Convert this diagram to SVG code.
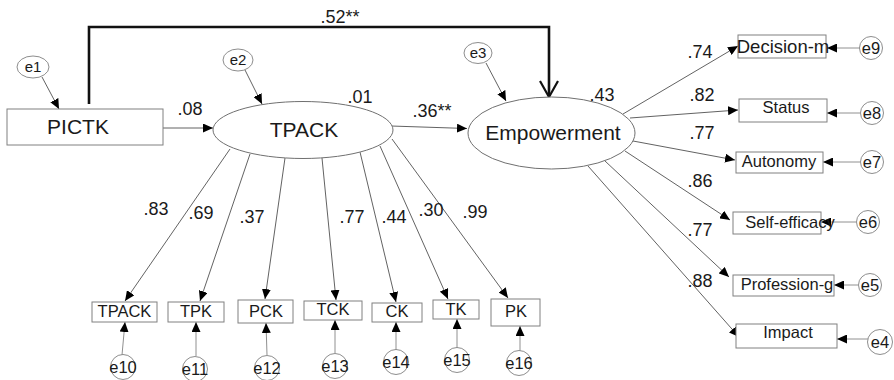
<svg xmlns="http://www.w3.org/2000/svg" width="894" height="380" viewBox="0 0 894 380">
  <style>
    .box { fill: #fff; stroke: #808080; stroke-width: 1; }
    .lat { fill: #fff; stroke: #707070; stroke-width: 1; }
    .err { fill: #fff; stroke: #808080; stroke-width: 0.9; }
    .ln { fill: none; stroke: #505050; stroke-width: 0.9; }
    .lg { fill: none; stroke: #909090; stroke-width: 1; }
    .big { font-family: "Liberation Sans", Arial, sans-serif; font-size: 21px; fill: #1a1a1a; text-anchor: middle; }
    .ind { font-family: "Liberation Sans", Arial, sans-serif; font-size: 16.5px; fill: #1a1a1a; text-anchor: middle; }
    .et { font-family: "Liberation Sans", Arial, sans-serif; font-size: 15px; fill: #1a1a1a; text-anchor: middle; }
    .num { font-family: "Liberation Sans", Arial, sans-serif; font-size: 18px; fill: #1a1a1a; text-anchor: middle; }
  </style>
  <defs>
    <marker id="ah" viewBox="0 0 10 9" markerUnits="userSpaceOnUse" markerWidth="10" markerHeight="9" refX="10" refY="4.5" orient="auto">
      <path d="M0,0 L10,4.5 L0,9 z" fill="#000"/>
    </marker>
  </defs>

  <!-- paths between variables -->
  <g id="connectors">
    <!-- direct effect PICTK -> Empowerment (bold, open head) -->
    <polyline points="89,104 89,27 549,27 549,96" fill="none" stroke="#111" stroke-width="2.6"/>
    <polyline points="540,81 549,97 558,81" fill="none" stroke="#111" stroke-width="2.2"/>

    <!-- structural paths -->
    <line class="ln" x1="160" y1="128" x2="213" y2="128" marker-end="url(#ah)"/>
    <line class="ln" x1="391" y1="126" x2="467" y2="128.5" marker-end="url(#ah)"/>

    <!-- error terms of latent / exogenous variables -->
    <line class="ln" x1="42" y1="77" x2="59" y2="109" marker-end="url(#ah)"/>
    <line class="ln" x1="245" y1="70" x2="262" y2="104" marker-end="url(#ah)"/>
    <line class="ln" x1="486" y1="63" x2="506" y2="101" marker-end="url(#ah)"/>

    <!-- TPACK loadings -->
    <line class="ln" x1="230" y1="149" x2="125" y2="301" marker-end="url(#ah)"/>
    <line class="ln" x1="250" y1="154" x2="200" y2="301" marker-end="url(#ah)"/>
    <line class="ln" x1="285" y1="158" x2="265" y2="299" marker-end="url(#ah)"/>
    <line class="ln" x1="322" y1="158" x2="336" y2="300" marker-end="url(#ah)"/>
    <line class="ln" x1="360" y1="152" x2="396" y2="302" marker-end="url(#ah)"/>
    <line class="ln" x1="380" y1="146" x2="448" y2="299" marker-end="url(#ah)"/>
    <line class="ln" x1="392" y1="139" x2="508" y2="298" marker-end="url(#ah)"/>

    <!-- Empowerment loadings -->
    <line class="ln" x1="623" y1="114" x2="738" y2="46" marker-end="url(#ah)"/>
    <line class="ln" x1="630" y1="118" x2="738" y2="110" marker-end="url(#ah)"/>
    <line class="ln" x1="633" y1="141" x2="735" y2="160" marker-end="url(#ah)"/>
    <line class="ln" x1="625" y1="151" x2="730" y2="220" marker-end="url(#ah)"/>
    <line class="ln" x1="605" y1="161" x2="729" y2="277" marker-end="url(#ah)"/>
    <line class="ln" x1="588" y1="166" x2="739" y2="337" marker-end="url(#ah)"/>

    <!-- indicator error terms, right -->
    <line class="lg" x1="860" y1="48" x2="827" y2="48" marker-end="url(#ah)"/>
    <line class="lg" x1="860" y1="113" x2="827" y2="113" marker-end="url(#ah)"/>
    <line class="lg" x1="860" y1="162" x2="823" y2="162" marker-end="url(#ah)"/>
    <line class="lg" x1="856" y1="222" x2="821" y2="222" marker-end="url(#ah)"/>
    <line class="lg" x1="858" y1="285" x2="834" y2="285" marker-end="url(#ah)"/>
    <line class="lg" x1="868" y1="339" x2="837" y2="339" marker-end="url(#ah)"/>

    <!-- indicator error terms, bottom -->
    <line class="lg" x1="122" y1="355" x2="125" y2="322" marker-end="url(#ah)"/>
    <line class="lg" x1="196" y1="356" x2="196" y2="322" marker-end="url(#ah)"/>
    <line class="lg" x1="267" y1="355" x2="266" y2="323" marker-end="url(#ah)"/>
    <line class="lg" x1="335" y1="353" x2="335" y2="320" marker-end="url(#ah)"/>
    <line class="lg" x1="396" y1="350" x2="396" y2="322" marker-end="url(#ah)"/>
    <line class="lg" x1="457" y1="348" x2="457" y2="319" marker-end="url(#ah)"/>
    <line class="lg" x1="520" y1="351" x2="520" y2="326" marker-end="url(#ah)"/>
  </g>

  <!-- coefficients -->
  <g id="coefficients">
    <text class="num" x="340" y="23">.52**</text>
    <text class="num" x="190" y="115">.08</text>
    <text class="num" x="360" y="103">.01</text>
    <text class="num" x="432" y="117">.36**</text>
    <text class="num" x="602" y="101">.43</text>
    <text class="num" x="700" y="58">.74</text>
    <text class="num" x="702" y="101">.82</text>
    <text class="num" x="702" y="139">.77</text>
    <text class="num" x="700" y="187">.86</text>
    <text class="num" x="700" y="236">.77</text>
    <text class="num" x="700" y="287">.88</text>
    <text class="num" x="156" y="215">.83</text>
    <text class="num" x="201" y="219">.69</text>
    <text class="num" x="252" y="223">.37</text>
    <text class="num" x="352" y="223">.77</text>
    <text class="num" x="394" y="223">.44</text>
    <text class="num" x="431" y="216">.30</text>
    <text class="num" x="475" y="218">.99</text>
  </g>

  <!-- observed and latent variables -->
  <g id="PICTK">
    <rect class="box" x="7" y="109" width="156" height="36"/>
    <text class="big" x="78" y="134">PICTK</text>
  </g>
  <g id="TPACK-latent">
    <ellipse class="lat" cx="303" cy="130" rx="90" ry="28.5"/>
    <text class="big" x="304" y="137">TPACK</text>
  </g>
  <g id="Empowerment">
    <ellipse class="lat" cx="551.5" cy="133" rx="83.5" ry="36"/>
    <text class="big" x="553" y="140">Empowerment</text>
  </g>

  <g id="e1"><ellipse class="err" cx="33" cy="67" rx="16" ry="11"/><text class="et" x="33" y="72">e1</text></g>
  <g id="e2"><ellipse class="err" cx="238" cy="60" rx="15" ry="11"/><text class="et" x="238" y="65">e2</text></g>
  <g id="e3"><ellipse class="err" cx="478" cy="53" rx="14" ry="10.5"/><text class="et" x="478" y="58">e3</text></g>

  <!-- Empowerment indicators -->
  <g id="Decision-m">
    <rect class="box" x="738" y="35" width="88" height="23"/>
    <text class="ind" x="783" y="53" style="font-size:18.5px">Decision-m</text>
  </g>
  <g id="Status">
    <rect class="box" x="739" y="99" width="88" height="23"/>
    <text class="ind" x="786" y="113">Status</text>
  </g>
  <g id="Autonomy">
    <rect class="box" x="736" y="152" width="87" height="21"/>
    <text class="ind" x="779" y="167">Autonomy</text>
  </g>
  <g id="Self-efficacy">
    <rect class="box" x="733" y="212" width="88" height="22"/>
    <text class="ind" x="790" y="228">Self-efficacy</text>
  </g>
  <g id="Profession-g">
    <rect class="box" x="733" y="275" width="101" height="21"/>
    <text class="ind" x="787" y="290">Profession-g</text>
  </g>
  <g id="Impact">
    <rect class="box" x="736" y="324" width="101" height="24"/>
    <text class="ind" x="788" y="338">Impact</text>
  </g>

  <g id="e9"><circle class="err" cx="871" cy="48" r="11.5"/><text class="et" x="871" y="54" style="font-size:16.5px">e9</text></g>
  <g id="e8"><circle class="err" cx="872" cy="113" r="11.5"/><text class="et" x="872" y="119" style="font-size:16.5px">e8</text></g>
  <g id="e7"><circle class="err" cx="872" cy="162" r="11.5"/><text class="et" x="872" y="168" style="font-size:16.5px">e7</text></g>
  <g id="e6"><circle class="err" cx="868" cy="222" r="11.5"/><text class="et" x="868" y="228" style="font-size:16.5px">e6</text></g>
  <g id="e5"><circle class="err" cx="870" cy="285" r="11.5"/><text class="et" x="870" y="291" style="font-size:16.5px">e5</text></g>
  <g id="e4"><circle class="err" cx="880" cy="342" r="12.5"/><text class="et" x="880" y="348" style="font-size:16.5px">e4</text></g>

  <!-- TPACK indicators -->
  <g id="TPACK-ind">
    <rect class="box" x="92" y="302" width="65" height="20"/>
    <text class="ind" x="124.5" y="317">TPACK</text>
  </g>
  <g id="TPK">
    <rect class="box" x="168" y="302" width="56" height="20"/>
    <text class="ind" x="196" y="317">TPK</text>
  </g>
  <g id="PCK">
    <rect class="box" x="238" y="300" width="55" height="23"/>
    <text class="ind" x="266" y="317">PCK</text>
  </g>
  <g id="TCK">
    <rect class="box" x="304" y="301" width="58" height="19"/>
    <text class="ind" x="333" y="315">TCK</text>
  </g>
  <g id="CK">
    <rect class="box" x="372" y="303" width="50" height="19"/>
    <text class="ind" x="397" y="317">CK</text>
  </g>
  <g id="TK">
    <rect class="box" x="433" y="300" width="46" height="19"/>
    <text class="ind" x="456" y="315">TK</text>
  </g>
  <g id="PK">
    <rect class="box" x="491" y="299" width="49" height="27"/>
    <text class="ind" x="516" y="317">PK</text>
  </g>

  <g id="e10"><circle class="err" cx="123" cy="367" r="12.5"/><text class="et" x="123" y="373" style="font-size:16.5px">e10</text></g>
  <g id="e11"><circle class="err" cx="195" cy="369" r="12.5"/><text class="et" x="195" y="375" style="font-size:16.5px">e11</text></g>
  <g id="e12"><circle class="err" cx="267" cy="368" r="12.5"/><text class="et" x="267" y="374" style="font-size:16.5px">e12</text></g>
  <g id="e13"><circle class="err" cx="335" cy="366" r="12.5"/><text class="et" x="335" y="372" style="font-size:16.5px">e13</text></g>
  <g id="e14"><circle class="err" cx="396" cy="362" r="12.5"/><text class="et" x="396" y="368" style="font-size:16.5px">e14</text></g>
  <g id="e15"><circle class="err" cx="457" cy="360" r="12.5"/><text class="et" x="457" y="366" style="font-size:16.5px">e15</text></g>
  <g id="e16"><circle class="err" cx="519" cy="363" r="12.5"/><text class="et" x="519" y="369" style="font-size:16.5px">e16</text></g>
</svg>
